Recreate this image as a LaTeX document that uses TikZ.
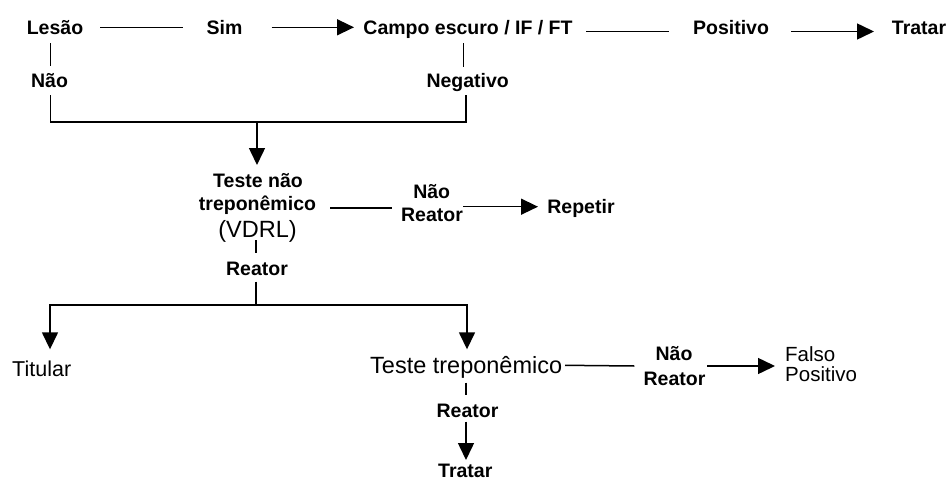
\documentclass[tikz,border=0pt]{standalone}
\usepackage{fontspec}
\setmainfont{Liberation Sans}
\usetikzlibrary{arrows.meta}
\begin{document}
\begin{tikzpicture}[x=1pt,y=-1pt,
  lbl/.style={font=\fontsize{19.5}{22}\selectfont\bfseries, inner sep=0pt, anchor=base},
  txt/.style={inner sep=0pt, anchor=base},
  ln/.style={line width=1.5pt},
  arr/.style={line width=1.5pt, -{Triangle[length=17pt,width=16pt]}}]
\useasboundingbox (0,0) rectangle (948,482);
% top row
\node[lbl] (lesao) at (55,34) {Lesão};
\node[lbl] (sim) at (224.5,34) {Sim};
\node[lbl] (campo) at (468,34) {Campo escuro / IF / FT};
\node[lbl] (pos) at (731,34) {Positivo};
\node[lbl] (trat1) at (919,34) {Tratar};
\node[lbl] (nao1) at (49.5,87) {Não};
\node[lbl] (neg) at (467.7,87) {Negativo};
\coordinate (join1) at (257,122);
% VDRL block
\node[lbl] (vdrl1) at (258,187.5) {Teste não};
\node[lbl] (vdrl2) at (257.5,210) {treponêmico};
\node[txt, font=\fontsize{23.5}{26}\selectfont] (vdrl3) at (257.5,237.5) {(VDRL)};
\node[lbl] (nr1) at (431.7,198.3) {Não};
\node[lbl] (nr2) at (432,221.7) {Reator};
\node[lbl] (rep) at (581,213.3) {Repetir};
\node[lbl] (reat1) at (257,275) {Reator};
\coordinate (join2) at (256,305);
% bottom
\node[txt, font=\fontsize{21.5}{24}\selectfont] (tit) at (41.7,376.7) {Titular};
\node[txt, font=\fontsize{23.5}{26}\selectfont] (tt) at (466.2,373.3) {Teste treponêmico};
\node[lbl] (nr3) at (674,360.7) {Não};
\node[lbl] (nr4) at (674.5,385.7) {Reator};
\node[txt, font=\fontsize{20.5}{23}\selectfont, anchor=base west] (fp1) at (785,361) {Falso};
\node[txt, font=\fontsize{20.5}{23}\selectfont, anchor=base west] (fp2) at (785,381.7) {Positivo};
\node[lbl] (reat2) at (467.5,417) {Reator};
\node[lbl] (trat2) at (465.3,477) {Tratar};
% connectors top row
\draw[ln] ([shift={(45pt,6.7pt)}]lesao.base) -- ([shift={(-41.5pt,6.7pt)}]sim.base);
\draw[arr] ([shift={(47.2pt,6.7pt)}]sim.base) -- ([shift={(-114pt,6.7pt)}]campo.base);
\draw[ln] ([shift={(118pt,2.3pt)}]campo.base) -- ([shift={(-62pt,2.3pt)}]pos.base);
\draw[arr] ([shift={(60pt,2.5pt)}]pos.base) -- ([shift={(-45pt,2.5pt)}]trat1.base);
% verticals to Não / Negativo
\draw[ln] ([shift={(-4.3pt,-9pt)}]lesao.base) -- ([shift={(1.2pt,21pt)}]nao1.base);
\draw[ln] ([shift={(-4.7pt,-9pt)}]campo.base) -- ([shift={(-4.4pt,20pt)}]neg.base);
% join
\coordinate (a1) at ([shift={(1.2pt,-8pt)}]nao1.base);
\coordinate (b1) at ([shift={(-1.7pt,-8pt)}]neg.base);
\draw[ln] (a1) -- (a1 |- join1) -- (b1 |- join1) -- (b1);
\draw[arr] (join1) -- ([shift={(-1pt,22.5pt)}]vdrl1.base);
% VDRL outputs
\draw[ln] ([shift={(72.5pt,2pt)}]vdrl2.base) -- ([shift={(-40.3pt,13.7pt)}]nr2.base);
\draw[arr] ([shift={(31pt,15pt)}]nr2.base) -- ([shift={(-43pt,6.6pt)}]rep.base);
\draw[ln] ([shift={(-1.5pt,-2.5pt)}]vdrl3.base) -- ([shift={(-1pt,22pt)}]reat1.base);
\draw[ln] ([shift={(-1pt,-6.7pt)}]reat1.base) -- (join2);
\draw[arr] (join2) -| ([shift={(8.3pt,27.4pt)}]tit.base);
\draw[arr] (join2) -| ([shift={(0.8pt,24pt)}]tt.base);
% treponemic outputs
\draw[ln] ([shift={(98.8pt,8pt)}]tt.base) -- ([shift={(-40.2pt,19.7pt)}]nr4.base);
\draw[arr] ([shift={(32.8pt,19.7pt)}]nr4.base) -- ([shift={(-10pt,-5pt)}]fp1.base west);
\draw[ln] ([shift={(-0.2pt,-9.4pt)}]tt.base) -- ([shift={(-1.5pt,22pt)}]reat2.base);
\draw[arr] ([shift={(-1.5pt,-4.7pt)}]reat2.base) -- ([shift={(0.7pt,17pt)}]trat2.base);
\end{tikzpicture}
\end{document}
